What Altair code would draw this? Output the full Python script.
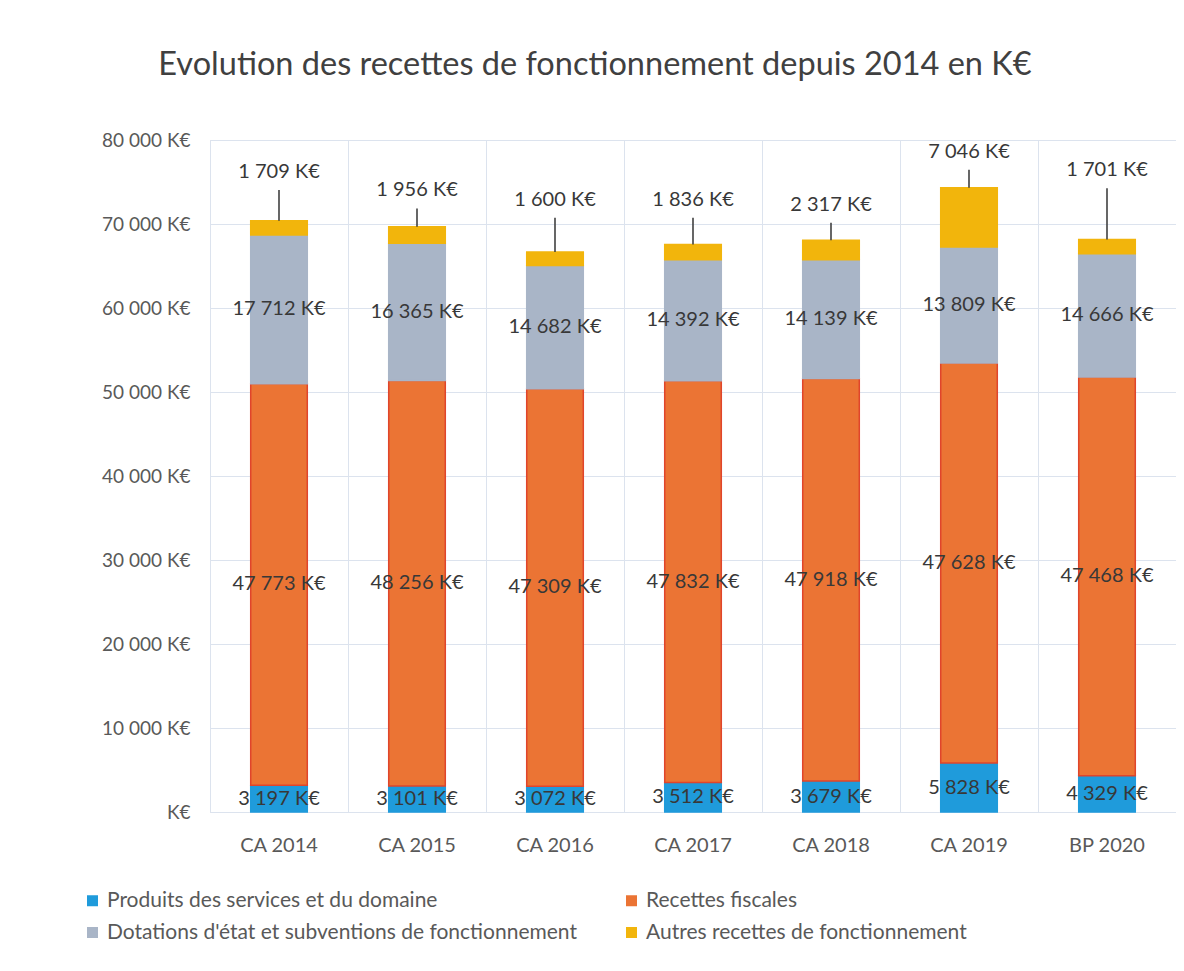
import altair as alt
import pandas as pd

categories = ["CA 2014", "CA 2015", "CA 2016", "CA 2017", "CA 2018", "CA 2019", "BP 2020"]
series = [
    "Produits des services et du domaine",
    "Recettes fiscales",
    "Dotations d'état et subventions de fonctionnement",
    "Autres recettes de fonctionnement",
]
produits = [3197, 3101, 3072, 3512, 3679, 5828, 4329]
recettes = [47773, 48256, 47309, 47832, 47918, 47628, 47468]
dotations = [17712, 16365, 14682, 14392, 14139, 13809, 14666]
autres = [1709, 1956, 1600, 1836, 2317, 7046, 1701]
# level (in K€) where the callout label of "Autres recettes" sits
callout_level = [76200, 74000, 72900, 72900, 72300, 78600, 76400]
colors = {"Produits des services et du domaine": "#1F9BDB",
          "Recettes fiscales": "#EB7434",
          "Dotations d'état et subventions de fonctionnement": "#A9B5C7",
          "Autres recettes de fonctionnement": "#F2B50C"}
strokes = {"Produits des services et du domaine": "#1F9BDB",
           "Recettes fiscales": "#E0452B",
           "Dotations d'état et subventions de fonctionnement": "#A9B5C7",
           "Autres recettes de fonctionnement": "#F2B50C"}
# legend order (Vega fills legend columns top-down)
legend_order = [series[0], series[2], series[1], series[3]]


def fmt(v):
    return f"{v:,}".replace(",", " ") + " K€"


rows = []
for i, c in enumerate(categories):
    for k, vals in enumerate([produits, recettes, dotations, autres]):
        rows.append({"cat": c, "serie": series[k], "ordre": k,
                     "valeur": vals[i], "etiquette": fmt(vals[i])})
df = pd.DataFrame(rows)

call_df = pd.DataFrame({
    "cat": categories,
    "total": [p + r + d + a for p, r, d, a in zip(produits, recettes, dotations, autres)],
    "callout": callout_level,
    "etiquette": [fmt(a) for a in autres],
})

FONT = "Lato"
TXT = "#383838"
AX = "#595959"
GRID = "#DCE3EE"

x_enc = alt.X(
    "cat:N", sort=categories,
    scale=alt.Scale(paddingInner=0, paddingOuter=0),
    axis=alt.Axis(title=None, labelAngle=0, grid=True, bandPosition=0,
                  ticks=False, domain=False, labelPadding=23,
                  labelFontSize=20, labelColor=AX, labelFont=FONT,
                  gridColor=GRID, gridWidth=1),
)
y_scale = alt.Scale(domain=[0, 80000])

bars = alt.Chart(df).mark_bar(width=alt.RelativeBandSize(0.41), strokeWidth=1.5).encode(
    x=x_enc,
    y=alt.Y("valeur:Q", stack="zero", scale=y_scale,
            axis=alt.Axis(title=None, values=list(range(0, 80001, 10000)),
                          ticks=False, domain=False, labelPadding=20,
                          labelFontSize=19, labelColor=AX, labelFont=FONT,
                          gridColor=GRID, gridWidth=1,
                          labelExpr="datum.value == 0 ? 'K€' : replace(format(datum.value, ','), ',', ' ') + ' K€'")),
    color=alt.Color("serie:N",
                    scale=alt.Scale(domain=legend_order, range=[colors[s] for s in legend_order]),
                    legend=alt.Legend(title=None, orient="none", legendX=-128, legendY=750,
                                      columns=2, symbolType="square", symbolSize=121,
                                      symbolStrokeWidth=0, labelFontSize=21,
                                      labelFont=FONT, labelColor=AX,
                                      columnPadding=44, rowPadding=10, labelLimit=700)),
    stroke=alt.Stroke("serie:N",
                      scale=alt.Scale(domain=legend_order, range=[strokes[s] for s in legend_order]),
                      legend=None),
    order=alt.Order("ordre:Q"),
)

seg_labels = alt.Chart(df).transform_stack(
    stack="valeur", as_=["y0", "y1"], groupby=["cat"], sort=[alt.SortField("ordre")]
).transform_calculate(
    mid="(datum.y0 + datum.y1) / 2"
).transform_filter("datum.ordre < 3").mark_text(
    fontSize=20, font=FONT, color=TXT, baseline="middle"
).encode(
    x=alt.X("cat:N", sort=categories),
    y=alt.Y("mid:Q", scale=y_scale),
    text="etiquette:N",
)

leaders = alt.Chart(call_df).transform_calculate(
    top="datum.callout - 2150"
).mark_rule(color="#404040", strokeWidth=1.6).encode(
    x=alt.X("cat:N", sort=categories),
    y=alt.Y("total:Q", scale=y_scale),
    y2="top:Q",
)

call_labels = alt.Chart(call_df).mark_text(
    fontSize=20, font=FONT, color=TXT, baseline="middle"
).encode(
    x=alt.X("cat:N", sort=categories),
    y=alt.Y("callout:Q", scale=y_scale),
    text="etiquette:N",
)

chart = alt.layer(bars, seg_labels, leaders, call_labels).properties(
    width=966, height=672,
    autosize=alt.AutoSizeParams(type="none"),
    padding={"left": 202, "top": 132, "right": 0, "bottom": 151},
    title=alt.TitleParams(
        "Evolution des recettes de fonctionnement depuis 2014 en K€",
        fontSize=32.5, font=FONT, fontWeight="normal", color="#404040",
        anchor="middle", dx=-98, offset=50,
    ),
).configure_view(stroke=GRID, strokeWidth=1).configure(font=FONT)

chart.save("out.html", embed_options={"renderer": "svg", "actions": False})
